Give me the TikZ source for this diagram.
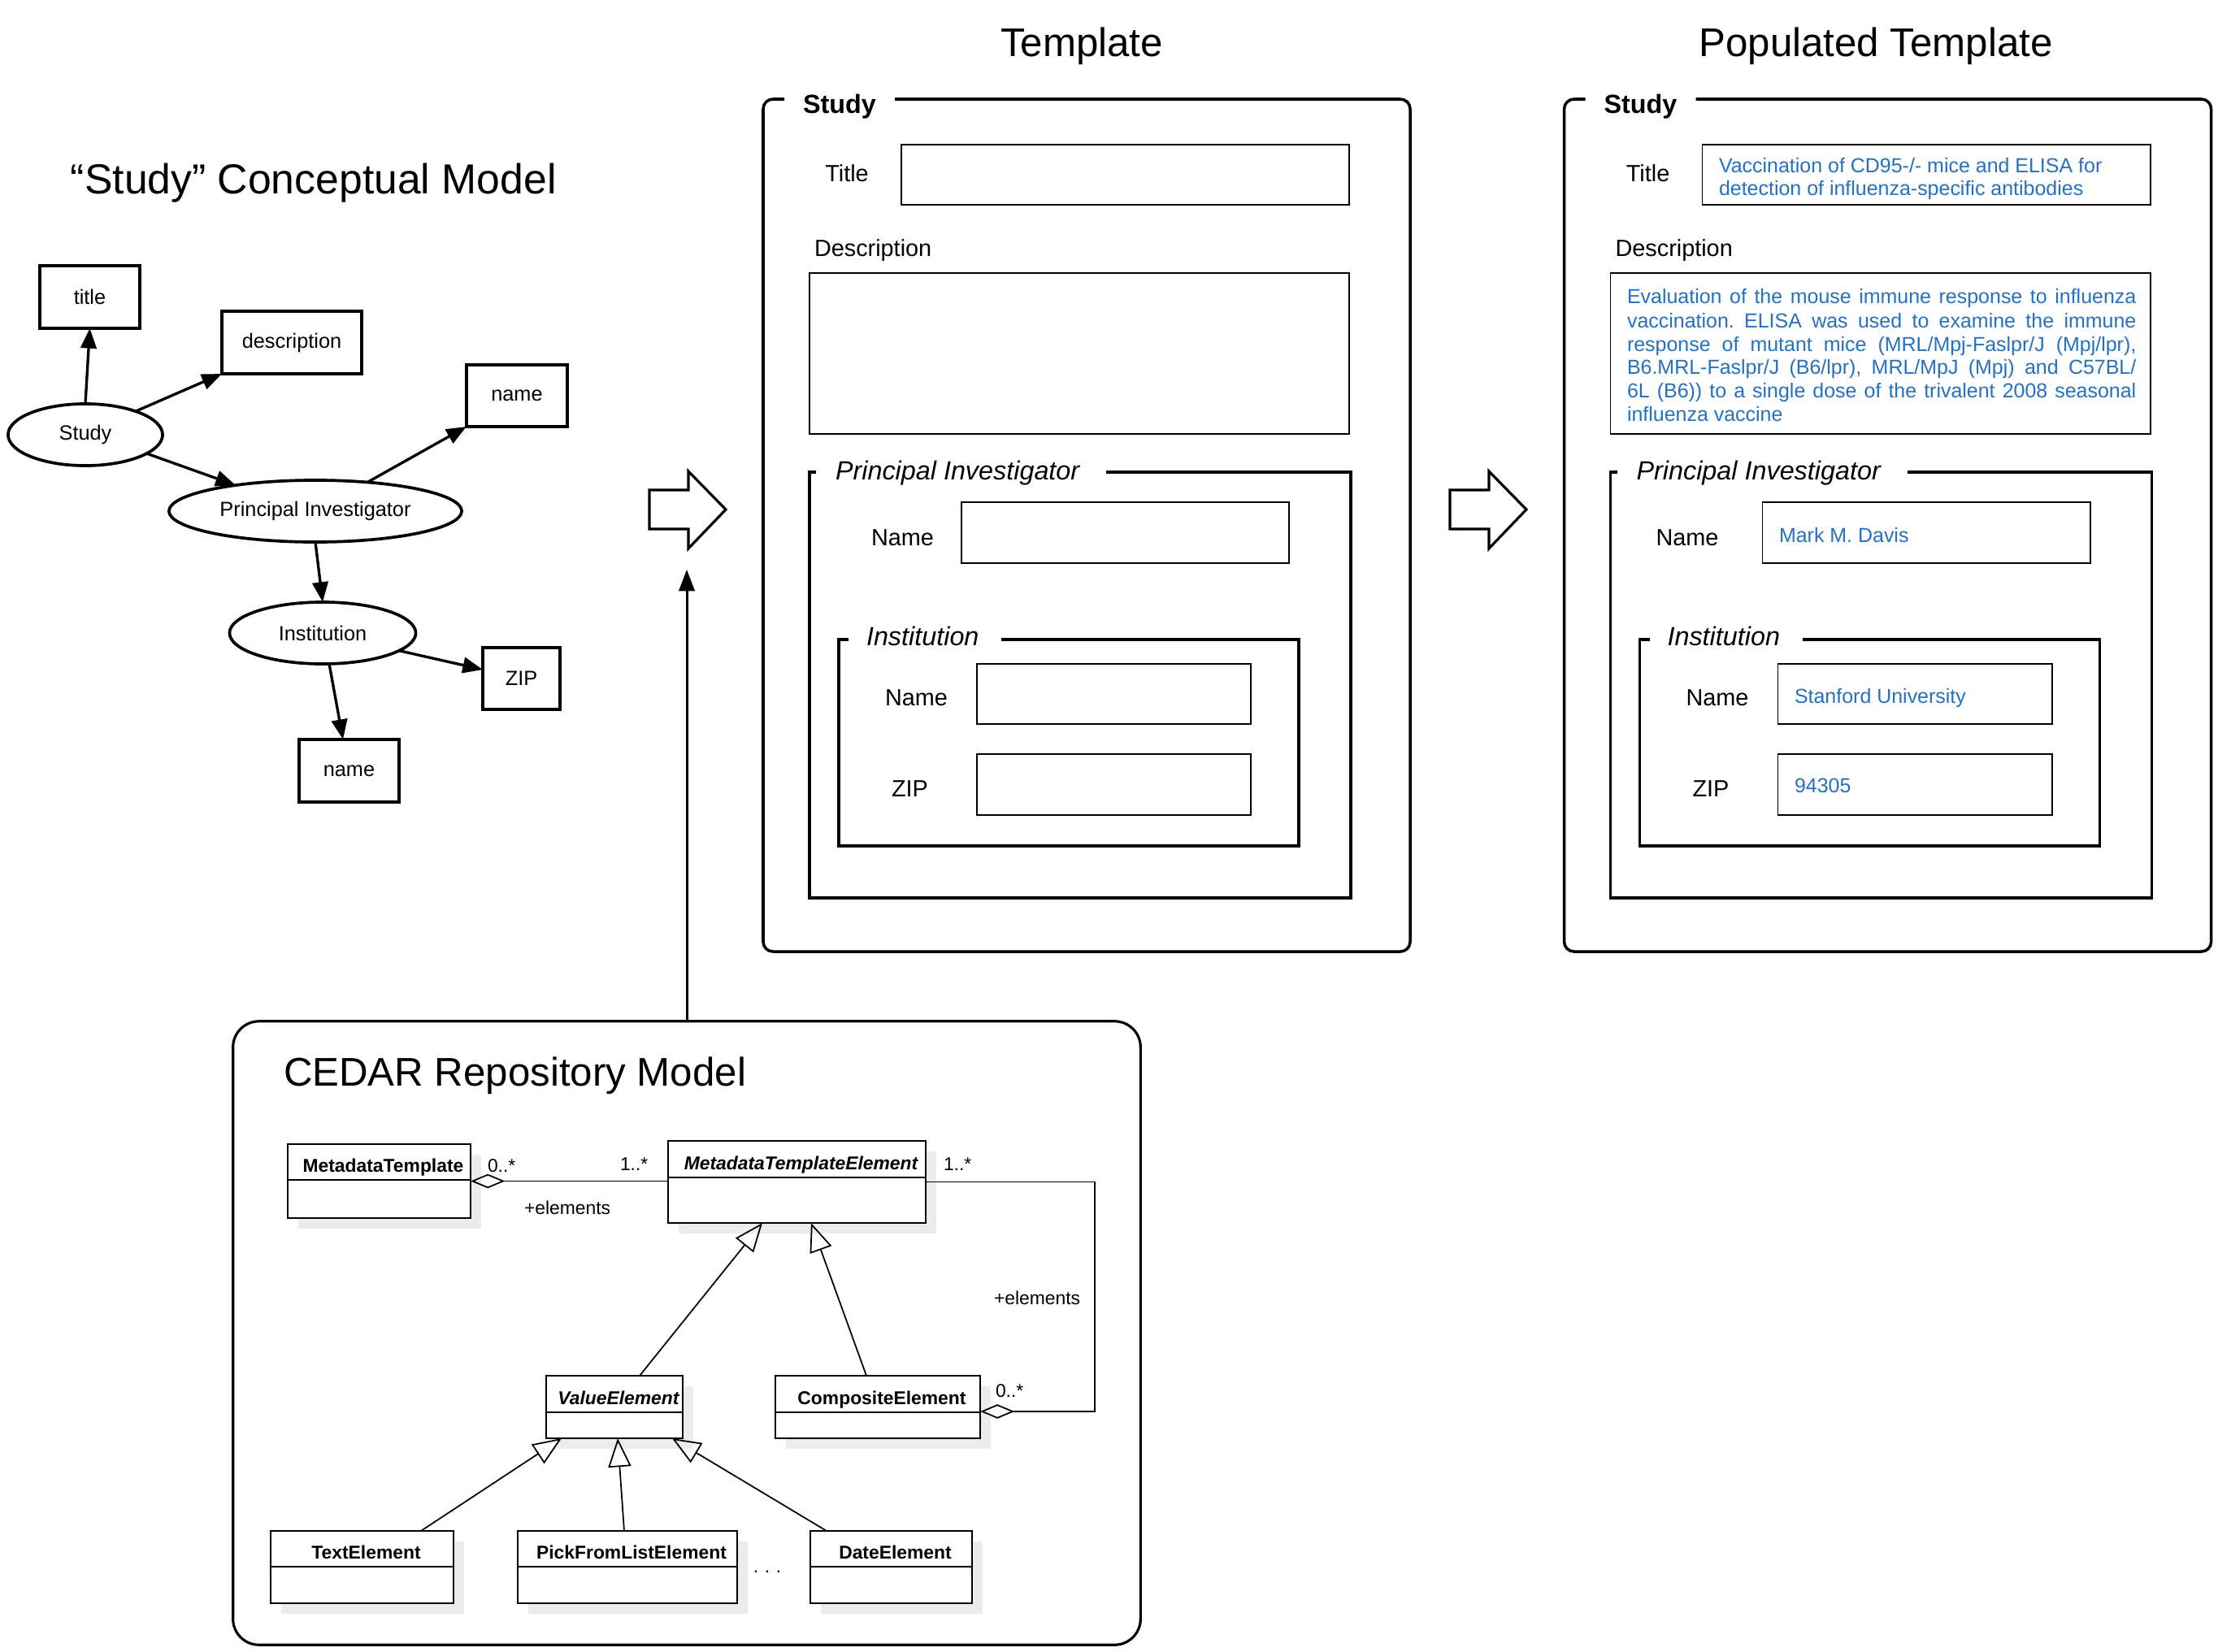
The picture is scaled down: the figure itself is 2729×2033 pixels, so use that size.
\documentclass[tikz,border=0pt]{standalone}
\usepackage{fontspec}
\setmainfont{Liberation Sans}
\usetikzlibrary{arrows.meta,shadows,calc,shapes.geometric}
\definecolor{fillblue}{RGB}{38,112,192}
\definecolor{shadowgray}{RGB}{236,236,236}
\newcommand\myfs[2]{\fontsize{#1}{#2}\selectfont}
\frenchspacing
\tikzset{
 every node/.style={inner sep=0pt, outer sep=0pt},
 cm box/.style={draw, line width=1.05pt, minimum height=0.77cm, font=\myfs{7.2}{8}},
 cm ell/.style={draw, ellipse, line width=1.05pt, minimum height=0.76cm, font=\myfs{7.2}{8}},
 cm arrow/.style={line width=0.95pt, -{Triangle[length=7pt,width=5.5pt]}},
 heading/.style={font=\myfs{14}{16}},
 frame/.style={line width=1pt},
 field/.style={draw, line width=0.5pt},
 flabel/.style={anchor=base west, font=\myfs{8.2}{9}},
 glabel/.style={anchor=base west, font=\myfs{9.2}{10}\itshape},
 filled/.style={anchor=base west, font=\myfs{7.1}{8}, text=fillblue},
 uml/.style={draw, line width=0.7pt, fill=white, drop shadow={shadow xshift=0.13cm, shadow yshift=-0.13cm, fill=shadowgray, opacity=1}},
 umlname/.style={font=\myfs{6.5}{7}\bfseries},
 umllbl/.style={font=\myfs{6.5}{7}},
 umlline/.style={line width=0.5pt},
 gen/.style={umlline, -{Triangle[open, length=10pt, width=8pt]}},
 agg/.style={umlline, {Diamond[open, length=12pt, width=5pt]}-},
 block/.style={draw, line width=0.9pt, line join=miter},
}
% form panel: #1 prefix, #2 xshift, #3 x of PI name label
\newcommand\formpanel[3]{%
\begin{scope}[xshift=#2]
\draw[frame, rounded corners=0.12cm] (965,122) -- (939,122) -- (939,1171) -- (1735,1171) -- (1735,122) -- (1101,122);
\node[anchor=base west, font=\myfs{9.2}{10}\bfseries] (#1study) at (988,139) {Study};
\node[anchor=base, font=\myfs{8.2}{9}] (#1titlelbl) at (1042,223) {Title};
\node[field, minimum width=5.51cm, minimum height=0.74cm] (#1titlebox) at (1384.5,215) {};
\node[flabel] (#1desclbl) at (1002,315) {Description};
\node[field, minimum width=6.64cm, minimum height=1.98cm] (#1descbox) at (1328,435) {};
\draw[frame] (1004,581) -- (996,581) -- (996,1105) -- (1662,1105) -- (1662,581) -- (1361,581);
\node[glabel] (#1pilbl) at (1028,590) {Principal Investigator};
\node[flabel] (#1namelbl) at (#3,671) {Name};
\node[field, minimum width=4.03cm, minimum height=0.75cm] (#1namebox) at (1384.5,655.5) {};
\draw[frame] (1044,787) -- (1032,787) -- (1032,1041) -- (1598,1041) -- (1598,787) -- (1232,787);
\node[glabel] (#1instlbl) at (1066,794) {Institution};
\node[flabel] (#1inamelbl) at (1089,868) {Name};
\node[field, minimum width=3.37cm, minimum height=0.74cm] (#1inamebox) at (1370.5,854) {};
\node[flabel] (#1ziplbl) at (1097,980) {ZIP};
\node[field, minimum width=3.37cm, minimum height=0.75cm] (#1zipbox) at (1370.5,965.5) {};
\end{scope}}
% uml class: #1 name, #2 cx, #3 cy, #4 w, #5 h, #6 divider offset, #7 text
\newcommand\umlclass[7]{%
\node[uml, minimum width=#4cm, minimum height=#5cm] (#1) at (#2,#3) {};
\draw[umlline] ($(#1.north west)+(0,#6)$) -- ($(#1.north east)+(0,#6)$);
\node[umlname, anchor=base] (#1-name) at ($(#1.north)+(5,#6-9.5)$) {#7};
}
\begin{document}
\begin{tikzpicture}[x=0.01cm, y=-0.01cm]
\useasboundingbox (0,0) rectangle (2729,2033);

% ---------- conceptual model ----------
\node[anchor=base west, font=\myfs{14.7}{16}] (cmtitle) at (87,238) {“Study” Conceptual Model};
\node[cm box, minimum width=1.23cm] (title) at (110.5,365.5) {title};
\node[cm box, minimum width=1.72cm] (desc) at (359,421.5) {description};
\node[cm box, minimum width=1.24cm, minimum height=0.76cm] (name1) at (636,487) {name};
\node[cm ell, minimum width=1.9cm] (study) at (105,535) {Study};
\node[cm ell, minimum width=3.6cm] (pi) at (388,629) {Principal Investigator};
\node[cm ell, minimum width=2.29cm] (inst) at (397,779) {Institution};
\node[cm box, minimum width=0.95cm, minimum height=0.76cm] (zip) at (641.5,835) {ZIP};
\node[cm box, minimum width=1.23cm] (name2) at (429.5,948.5) {name};
\draw[cm arrow] (study.north) -- (title.south);
\draw[cm arrow] (study.25) -- (desc.south west);
\draw[cm arrow] (study.343) -- (pi.162);
\draw[cm arrow] (pi.29.5) -- (name1.south west);
\draw[cm arrow] (pi.south) -- (inst.north);
\draw[cm arrow] (inst.347.5) -- (zip.167);
\draw[cm arrow] (inst.282) -- (name2.101);

% ---------- titles ----------
\node[heading, anchor=base] (tpltitle) at (1331,70) {Template};
\node[heading, anchor=base] (poptitle) at (2308,70) {Populated Template};

% ---------- forms ----------
\formpanel{t-}{0cm}{1072}
\formpanel{p-}{9.85cm}{1052}

% populated values
\node[filled] (pt1) at (2115,212) {Vaccination of CD95-/- mice and ELISA for};
\node[filled] (pt2) at (2115,240) {detection of influenza-specific antibodies};
\node[filled] (pd1) at (2002,373) {\makebox[6.26cm][s]{Evaluation of the mouse immune response to influenza}};
\node[filled] (pd2) at (2002,403) {\makebox[6.26cm][s]{vaccination. ELISA was used to examine the immune}};
\node[filled] (pd3) at (2002,432) {\makebox[6.26cm][s]{response of mutant mice (MRL/Mpj-Faslpr/J (Mpj/lpr),}};
\node[filled] (pd4) at (2002,460) {\makebox[6.26cm][s]{B6.MRL-Faslpr/J (B6/lpr), MRL/MpJ (Mpj) and C57BL/}};
\node[filled] (pd5) at (2002,489) {\makebox[6.26cm][s]{6L (B6)) to a single dose of the trivalent 2008 seasonal}};
\node[filled] (pd6) at (2002,518) {influenza vaccine};
\node[filled] (pname) at (2189,667) {Mark M. Davis};
\node[filled] (pinst) at (2208,865) {Stanford University};
\node[filled] (pzip) at (2208,975) {94305};

% block arrows
\draw[block] (799,603) -- (847,603) -- (847,580) -- (893,627) -- (847,675) -- (847,651) -- (799,651) -- cycle;
\draw[block] (1784,603) -- (1832,603) -- (1832,580) -- (1878,627) -- (1832,675) -- (1832,651) -- (1784,651) -- cycle;

% ---------- CEDAR ----------
\node[draw, line width=0.9pt, rounded corners=0.32cm, minimum width=11.16cm, minimum height=7.67cm] (cedar) at (845,1640.5) {};
\node[heading, anchor=base west] (cedartitle) at (349,1336) {CEDAR Repository Model};
\coordinate (tplin) at (845,701);
\draw[line width=0.85pt, -{Triangle[length=7.5pt,width=5.5pt]}] (cedar.north) -- (tplin);

\umlclass{mt}{466.5}{1453.5}{2.25}{0.91}{44}{MetadataTemplate}
\umlclass{mte}{980.5}{1454.5}{3.17}{1.01}{45}{\itshape MetadataTemplateElement}
\umlclass{ve}{756}{1731.5}{1.68}{0.77}{45}{\itshape ValueElement}
\umlclass{ce}{1080}{1731.5}{2.52}{0.77}{45}{CompositeElement}
\umlclass{te}{445.5}{1928.5}{2.25}{0.89}{44}{TextElement}
\umlclass{pfl}{772}{1928.5}{2.70}{0.89}{44}{PickFromListElement}
\umlclass{de}{1096.5}{1928.5}{1.99}{0.89}{44}{DateElement}

\draw[agg] (mt.east) -- (mt.east -| mte.west);
\coordinate (rc) at (1347,1454);
\coordinate (ceagg) at ($(ce.north east)+(0,44)$);
\draw[agg] (ceagg) -- (ceagg -| rc) |- (mte.east);
\node[umllbl, anchor=west] (m1) at (600,1435) {0..*};
\node[umllbl, anchor=west] (m2) at (763,1433) {1..*};
\node[umllbl, anchor=west] (r1) at (645,1486) {+elements};
\node[umllbl, anchor=west] (m3) at (1161,1433) {1..*};
\node[umllbl, anchor=west] (r2) at (1223,1597) {+elements};
\node[umllbl, anchor=west] (m4) at (1225,1712) {0..*};
\node[umllbl] (dots) at (944,1934) {.\,\,.\,\,.};

\draw[gen] ($(ve.north)+(31,0)$) -- ($(mte.south)+(-42.5,0)$);
\draw[gen] ($(ce.north)+(-14,0)$) -- ($(mte.south)+(17.5,0)$);
\draw[gen] ($(te.north)+(72.5,0)$) -- ($(ve.south)+(-65,0)$);
\draw[gen] ($(pfl.north)+(-4,0)$) -- ($(ve.south)+(4,0)$);
\draw[gen] ($(de.north)+(-79.5,0)$) -- ($(ve.south)+(71,0)$);
\end{tikzpicture}
\end{document}
